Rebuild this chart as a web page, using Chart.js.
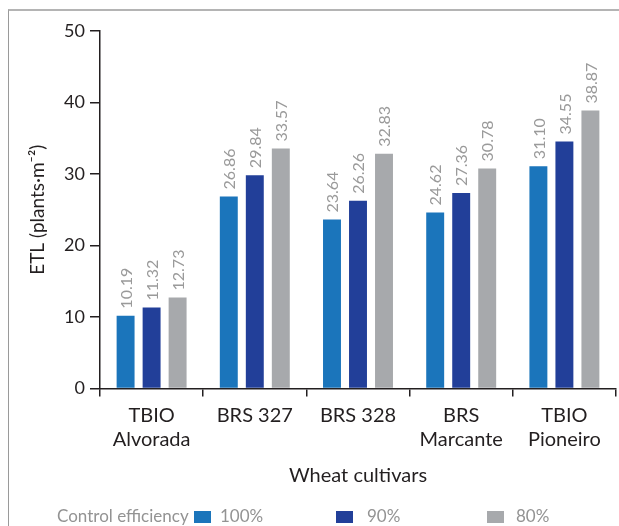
<!DOCTYPE html>
<html>
<head>
<meta charset="utf-8">
<script src="https://cdn.jsdelivr.net/npm/chart.js@4"></script>
<style>
  html, body { margin: 0; padding: 0; background: #fff; }
  #wrap { position: relative; width: 619px; height: 526px; overflow: hidden; }
  #frame { position: absolute; left: 8px; top: 9px; right: -5px; bottom: -5px;
           border-top: 2px solid #b4b4b4; border-left: 1.5px solid #9a9a9a; }
  canvas { position: absolute; left: 0; top: 0; }
  .lg { position: absolute; top: 505px; font: 17px Lato, sans-serif; color: #939393; white-space: nowrap; line-height: 22px; }
  .sw { position: absolute; top: 511px; width: 17px; height: 12px; }
</style>
</head>
<body>
<div id="wrap">
  <div id="frame"></div>
  <canvas id="chart" width="619" height="526"></canvas>
  <div class="lg" style="left:57px">Control efficiency</div>
  <div class="sw" style="left:194px;background:#1b75bb"></div>
  <div class="lg" style="left:220px">100%</div>
  <div class="sw" style="left:336px;background:#223f99"></div>
  <div class="lg" style="left:367px">90%</div>
  <div class="sw" style="left:487px;background:#a7a9ac"></div>
  <div class="lg" style="left:516px">80%</div>
</div>
<script>
/* ETL by wheat cultivar and control efficiency */
const cultivars = [['TBIO', 'Alvorada'], 'BRS 327', 'BRS 328', ['BRS', 'Marcante'], ['TBIO', 'Pioneiro']];
const eff100 = [10.19, 26.86, 23.64, 24.62, 31.10];
const eff90 = [11.32, 29.84, 26.26, 27.36, 34.55];
const eff80 = [12.73, 33.57, 32.83, 30.78, 38.87];
const yTicks = [0, 10, 20, 30, 40, 50];

const COLORS = { c100: '#1b75bb', c90: '#223f99', c80: '#a7a9ac', axis: '#231f20', label: '#9a9a9a' };
const FONT = 'Lato, sans-serif';

// rotated value labels above each bar
const valueLabels = {
  id: 'valueLabels',
  afterDatasetsDraw(chart) {
    const ctx = chart.ctx;
    ctx.save();
    ctx.font = '16px ' + FONT;
    ctx.fillStyle = COLORS.label;
    ctx.textAlign = 'left';
    ctx.textBaseline = 'middle';
    chart.data.datasets.forEach((ds, i) => {
      chart.getDatasetMeta(i).data.forEach((bar, j) => {
        ctx.save();
        ctx.translate(bar.x + 1, bar.y - 7);
        ctx.rotate(-Math.PI / 2);
        ctx.fillText(ds.data[j].toFixed(2), 0, 0);
        ctx.restore();
      });
    });
    ctx.restore();
  }
};

new Chart(document.getElementById('chart'), {
  type: 'bar',
  data: {
    labels: cultivars,
    datasets: [
      { label: '100%', data: eff100, backgroundColor: COLORS.c100 },
      { label: '90%', data: eff90, backgroundColor: COLORS.c90 },
      { label: '80%', data: eff80, backgroundColor: COLORS.c80 },
    ]
  },
  options: {
    responsive: false, animation: false, devicePixelRatio: 1,
    layout: { padding: { left: 22, top: 31, right: 3, bottom: 38 } },
    categoryPercentage: 0.756, barPercentage: 0.69,
    scales: {
      x: {
        grid: { display: true, offset: true, drawOnChartArea: false, drawTicks: true, tickLength: 8, color: COLORS.axis, lineWidth: 1.5 },
        border: { display: true, color: COLORS.axis, width: 1.5 },
        ticks: { color: COLORS.axis, font: { family: FONT, size: 20, lineHeight: 1.2 }, padding: 7, maxRotation: 0, autoSkip: false },
        title: { display: true, text: 'Wheat cultivars', color: COLORS.axis, font: { family: FONT, size: 20 }, padding: { top: 0, bottom: 0 } },
        afterFit: s => { s.height = 99.5; },
      },
      y: {
        min: 0, max: 50,
        afterBuildTicks: s => { s.ticks = yTicks.map(v => ({ value: v })); },
        grid: { display: true, drawOnChartArea: false, drawTicks: true, tickLength: 10, color: COLORS.axis, lineWidth: 1.5 },
        border: { display: true, color: COLORS.axis, width: 1.5 },
        ticks: { color: COLORS.axis, font: { family: FONT, size: 18 }, padding: 5 },
        title: { display: true, text: 'ETL (plants·m⁻²)', color: COLORS.axis, font: { family: FONT, size: 19 }, padding: { top: 4, bottom: 0 } },
        afterFit: s => { s.width = 78; },
      }
    },
    plugins: { legend: { display: false }, tooltip: { enabled: false } }
  },
  plugins: [valueLabels]
});
</script>
</body>
</html>
